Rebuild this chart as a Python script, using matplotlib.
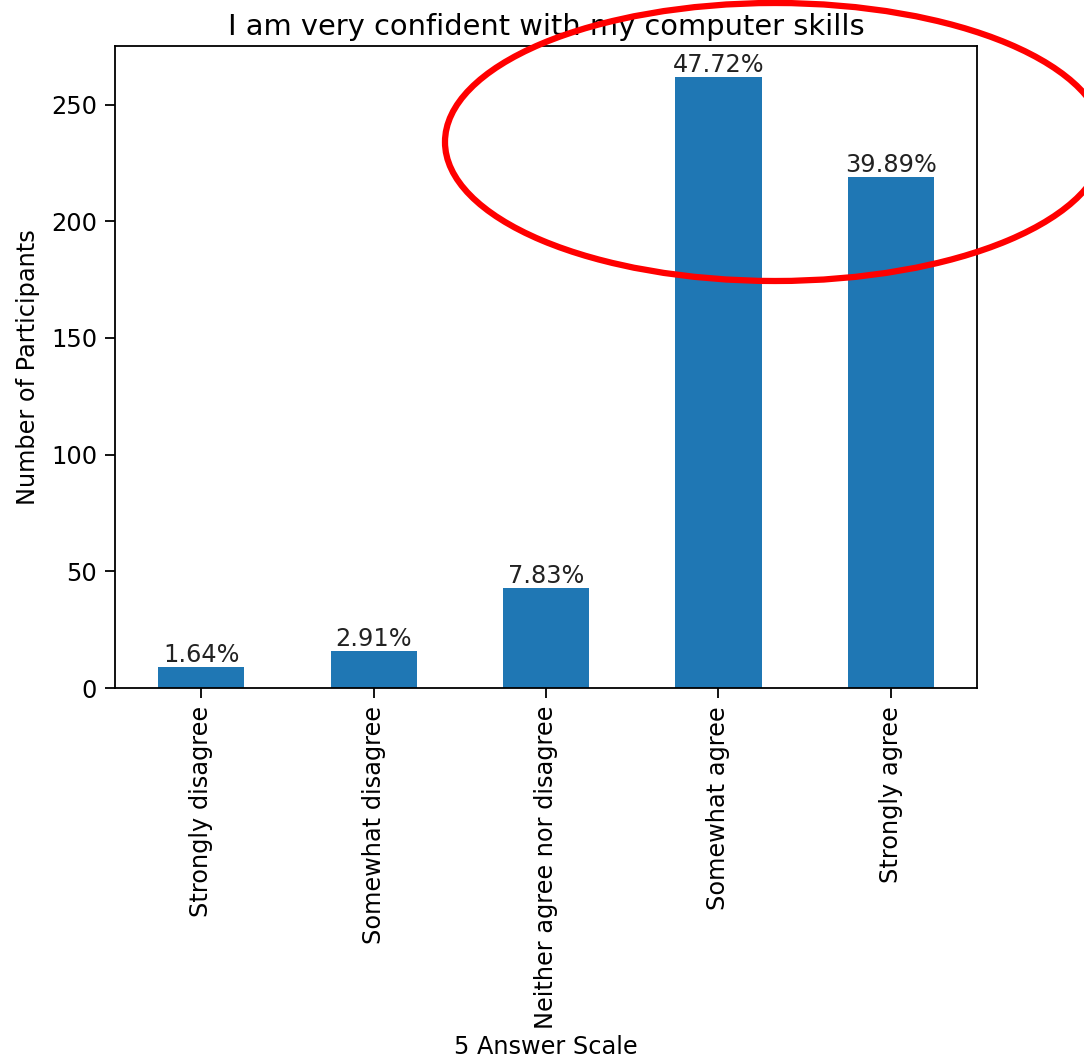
import matplotlib
matplotlib.use("Agg")
import matplotlib.pyplot as plt
from matplotlib.patches import Ellipse

categories = ["Strongly disagree", "Somewhat disagree", "Neither agree nor disagree",
              "Somewhat agree", "Strongly agree"]
counts = [9, 16, 43, 262, 219]
title = "I am very confident with my computer skills"

total = sum(counts)
fig = plt.figure(figsize=(10.84, 10.63), dpi=100)
ax = fig.add_axes([115/1084, 1 - 688/1063, (977-115)/1084, (688-46)/1063])
x = list(range(len(categories)))
bars = ax.bar(x, counts, width=0.5, color="#1f77b4")
ax.set_xlim(-0.5, len(categories) - 0.5)
ax.set_ylim(0, max(counts) * 1.05)
ax.set_xticks(x)
ax.set_xticklabels(categories, rotation=90, fontsize=17.3)
ax.tick_params(axis="y", labelsize=17.3, length=7, width=1.3, pad=6)
ax.tick_params(axis="x", length=7, width=1.3, pad=6)
for s in ax.spines.values():
    s.set_linewidth(1.3)
for b, c in zip(bars, counts):
    ax.text(b.get_x() + b.get_width()/2, b.get_height(), f"{c/total*100:.2f}%",
            ha="center", va="bottom", fontsize=17.3, color="#222222")
ax.set_title(title, fontsize=20.8, pad=8)
ax.set_ylabel("Number of Participants", fontsize=17.3, labelpad=8)
ax.set_xlabel("5 Answer Scale", fontsize=17.3, labelpad=4)

ov = fig.add_axes([0, 0, 1, 1], facecolor="none")
ov.set_xlim(0, 1084)
ov.set_ylim(1063, 0)
ov.axis("off")
ov.add_patch(Ellipse((775, 142), 660, 278, angle=0, fill=False,
                     edgecolor="#ff0000", linewidth=4.5))

fig.savefig("out.png", dpi=100)
